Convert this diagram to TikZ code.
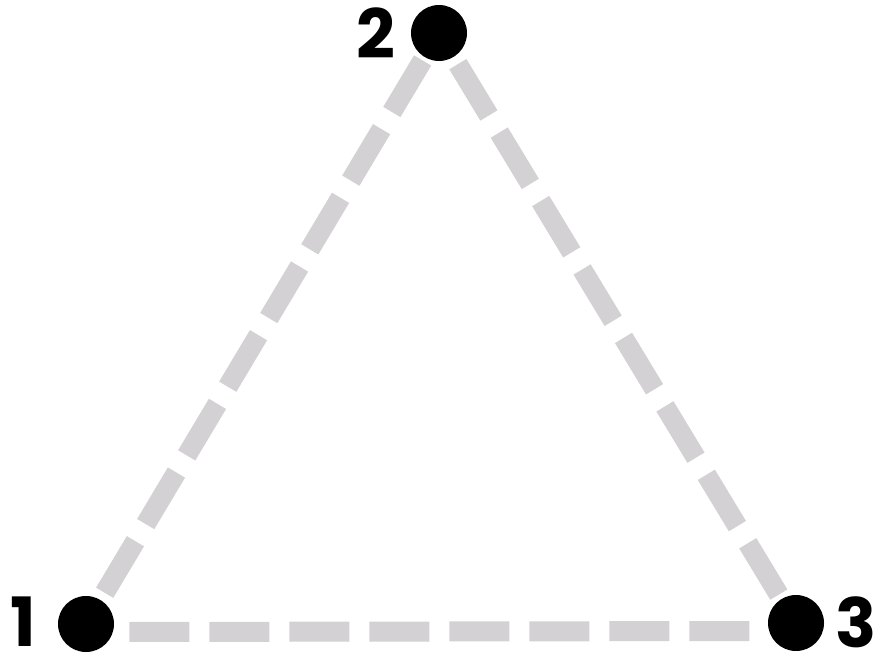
\documentclass[tikz,border=0pt]{standalone}
\usepackage{fontspec}
\usepackage{tikz}
\usetikzlibrary{positioning}
\newfontfamily\numfont{Poppins}
\definecolor{ink}{HTML}{000000}
\definecolor{edgegray}{HTML}{D3D1D3}

\begin{document}
\begin{tikzpicture}[x=0.5pt,y=-0.5pt,
  dot/.style={circle,fill=ink,minimum size=28pt,inner sep=0pt},
  num/.style={font=\numfont\bfseries\fontsize{34}{34}\selectfont,text=ink,inner sep=0pt},
  edge/.style={draw=edgegray,line width=10pt,dash pattern=on 30pt off 10pt}]
  \useasboundingbox (0,0) rectangle (877,656);
  \foreach \n/\x/\y/\lx/\ly in {
    1/86/624/23/622,
    2/439/33/376/33,
    3/796/623/856/622} {
    \node[dot] (d\n) at (\x,\y) {};
    \node[num] (n\n) at (\lx,\ly) {\n};
  }
  \draw[edge,dash phase=36pt] (d1) -- (d2);
  \draw[edge,dash phase=36pt] (d2) -- (d3);
  \draw[edge,dash phase=32.5pt] ([yshift=-4pt]d1.east) -- ([yshift=-4pt]d3.west);
\end{tikzpicture}
\end{document}
